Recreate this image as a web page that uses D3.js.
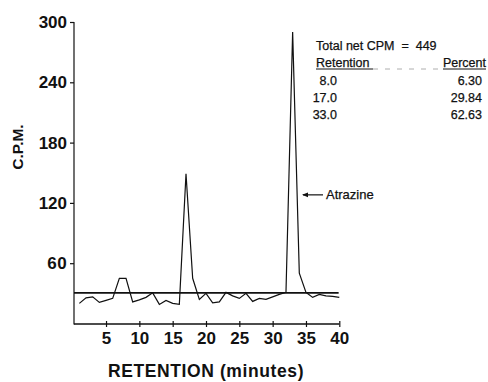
<!DOCTYPE html>
<html>
<head>
<meta charset="utf-8">
<script src="https://cdn.jsdelivr.net/npm/d3@7"></script>
<style>
  html, body { margin: 0; padding: 0; background: #fff; }
  svg { display: block; }
  text { white-space: pre; }
</style>
</head>
<body>
<svg id="chart" width="488" height="382"></svg>
<script>
// ---- data ----
const retention = [1,2,3,4,5,6,7,8,9,10,11,12,13,14,15,16,17,18,19,20,21,22,23,24,25,26,27,28,29,30,31,32,33,34,35,36,37,38,39,40];
const cpm = [20,25.5,26.5,21,23,25,45,45,21.5,23.5,26,30.5,19,23,20,19,149,45,24,30,20.5,21.5,31,27.5,25,30,22,25,24,26.5,29,31,290,50,31,26,29,27.5,27,26];
const baselineCPM = 30.5;
const xTicks = [5,10,15,20,25,30,35,40];
const yTicks = [60,120,180,240,300];
const tableHeader = ["Retention", "Percent"];
const tableRetention = ["8.0", "17.0", "33.0"];
const tablePercent = ["6.30", "29.84", "62.63"];
const totalLabel = "Total net CPM  =  449";
const peakLabel = "Atrazine";
const peakLabelValue = 128;

const ink = "#111";
const svg = d3.select("#chart");
const ff = "'Liberation Sans', Arial, sans-serif";

const x = d3.scaleLinear().domain([0, 40]).range([72.7, 339.3]);
const y = d3.scaleLinear().domain([0, 300]).range([323.5, 22]);

// y axis
const yAxis = d3.axisLeft(y).tickValues(yTicks).tickSize(4).tickSizeOuter(0).tickPadding(3);
const gy = svg.append("g").attr("transform", "translate(74,0)").call(yAxis);
gy.select(".domain").remove();
gy.append("line").attr("x1", 0).attr("x2", 0).attr("y1", y(300)).attr("y2", 324.5)
  .attr("stroke", ink).attr("stroke-width", 1.2);
gy.selectAll(".tick line").attr("stroke", ink).attr("stroke-width", 1.2);
gy.selectAll(".tick text")
  .attr("font-family", ff)
  .attr("font-weight", "bold").attr("font-size", 17).attr("fill", ink);

// x axis
const xAxis = d3.axisBottom(x).tickValues(xTicks).tickSize(3).tickSizeOuter(0).tickPadding(5);
const gx = svg.append("g").attr("transform", "translate(0,324)").call(xAxis);
gx.select(".domain").remove();
gx.append("line").attr("x1", 74).attr("x2", x(40)).attr("y1", 0).attr("y2", 0)
  .attr("stroke", ink).attr("stroke-width", 1.3);
gx.selectAll(".tick line").attr("y1", -3).attr("y2", 3).attr("stroke", ink).attr("stroke-width", 1.2);
gx.selectAll(".tick text")
  .attr("font-family", ff)
  .attr("font-weight", "bold").attr("font-size", 17).attr("fill", ink);

// axis titles
svg.append("text")
  .attr("transform", "translate(23,147) rotate(-90)")
  .attr("text-anchor", "middle")
  .attr("font-family", ff)
  .attr("font-weight", "bold").attr("font-size", 15.5).attr("fill", ink)
  .text("C.P.M.");
svg.append("text")
  .attr("x", 206).attr("y", 377)
  .attr("text-anchor", "middle")
  .attr("font-family", ff)
  .attr("font-weight", "bold").attr("font-size", 17.5).attr("letter-spacing", 0.6).attr("fill", ink)
  .text("RETENTION (minutes)");

// baseline
svg.append("line")
  .attr("x1", 74).attr("x2", x(39.9))
  .attr("y1", y(baselineCPM)).attr("y2", y(baselineCPM))
  .attr("stroke", ink).attr("stroke-width", 1.6);

// data line
const line = d3.line().x((d, i) => x(retention[i])).y(d => y(d));
svg.append("path")
  .datum(cpm)
  .attr("d", line)
  .attr("fill", "none").attr("stroke", ink).attr("stroke-width", 1.2)
  .attr("stroke-linejoin", "miter");

// Atrazine annotation
const ay = y(peakLabelValue);
svg.append("line").attr("x1", 303).attr("x2", 323).attr("y1", ay).attr("y2", ay)
  .attr("stroke", ink).attr("stroke-width", 1.2);
svg.append("path")
  .attr("d", `M302,${ay} L308,${ay - 2.3} L308,${ay + 2.3} Z`)
  .attr("fill", ink);
svg.append("text").attr("x", 326).attr("y", ay + 4.5)
  .attr("font-family", ff)
  .attr("font-size", 13).attr("stroke", ink).attr("stroke-width", 0.25).attr("fill", ink)
  .text(peakLabel);

// table
function tableText(tx, ty, s, anchor) {
  svg.append("text").attr("x", tx).attr("y", ty).attr("text-anchor", anchor || "start")
    .attr("font-family", ff).attr("font-size", 12.5)
    .attr("stroke", ink).attr("stroke-width", 0.25).attr("fill", ink).text(s);
}
tableText(316, 49.5, totalLabel);
tableText(316, 66.5, tableHeader[0]);
svg.select("text:last-child").attr("letter-spacing", 0.4);
tableText(486, 66.5, tableHeader[1], "end");
svg.append("line").attr("x1", 316).attr("x2", 373).attr("y1", 69).attr("y2", 69)
  .attr("stroke", ink).attr("stroke-width", 1);
svg.append("line").attr("x1", 373).attr("x2", 443).attr("y1", 69).attr("y2", 69)
  .attr("stroke", "#999").attr("stroke-width", 0.8).attr("stroke-dasharray", "5,7");
svg.append("line").attr("x1", 443).attr("x2", 486).attr("y1", 69).attr("y2", 69)
  .attr("stroke", ink).attr("stroke-width", 1);
tableRetention.forEach((r, i) => {
  tableText(337, 84.5 + i * 17, r, "end");
  tableText(482, 84.5 + i * 17, tablePercent[i], "end");
});
</script>
</body>
</html>
